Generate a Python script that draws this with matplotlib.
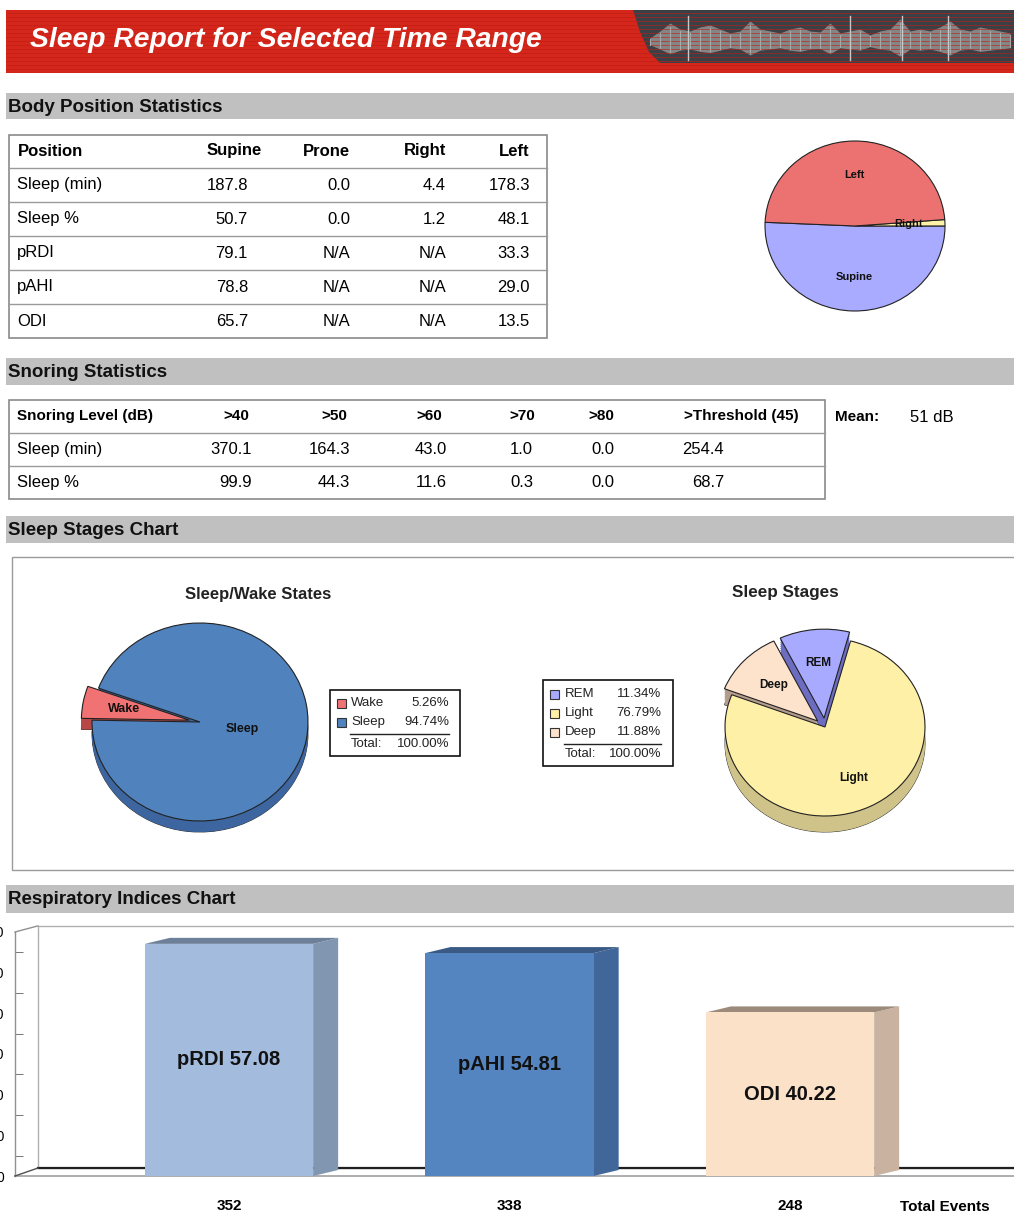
import numpy as np
import matplotlib.pyplot as plt
from matplotlib.patches import Rectangle, Polygon

plt.rcParams['font.family'] = ['Liberation Sans', 'DejaVu Sans']

W, H = 1014, 1213

title = "Sleep Report for Selected Time Range"

# ---- body position ----
pos_cols = ["Supine", "Prone", "Right", "Left"]
pos_rows = ["Sleep (min)", "Sleep %", "pRDI", "pAHI", "ODI"]
pos_sleep_min = [187.8, 0.0, 4.4, 178.3]
pos_sleep_pct = [50.7, 0.0, 1.2, 48.1]
pos_prdi = [79.1, None, None, 33.3]
pos_pahi = [78.8, None, None, 29.0]
pos_odi = [65.7, None, None, 13.5]

# ---- snoring ----
snore_cols = [">40", ">50", ">60", ">70", ">80", ">Threshold (45)"]
snore_rows = ["Sleep (min)", "Sleep %"]
snore_min = [370.1, 164.3, 43.0, 1.0, 0.0, 254.4]
snore_pct = [99.9, 44.3, 11.6, 0.3, 0.0, 68.7]
snore_mean = 51

# ---- sleep stages ----
wake_labels = ["Wake", "Sleep"]
wake_pct = [5.26, 94.74]
wake_total = 100.00
stage_labels = ["REM", "Light", "Deep"]
stage_pct = [11.34, 76.79, 11.88]
stage_total = 100.00

# ---- respiratory indices ----
resp_labels = ["pRDI", "pAHI", "ODI"]
resp_index = [57.08, 54.81, 40.22]
resp_events = [352, 338, 248]

# banner decoration (hand-read envelope of the waveform picture)
wave_x = list(range(650, 1015, 10))
wave_env = [3, 10, 18, 12, 10, 14, 16, 12, 8, 10, 20, 12, 10, 8, 12, 14, 10, 9, 18,
            8, 10, 12, 6, 10, 12, 22, 10, 12, 10, 14, 20, 12, 10, 14, 12, 10, 8]

fig = plt.figure(figsize=(W / 100, H / 100), dpi=100)


def fig_axes(x0, y0, x1, y1):
    return fig.add_axes([x0 / W, 1 - y1 / H, (x1 - x0) / W, (y1 - y0) / H])


bg = fig.add_axes([0, 0, 1, 1])
bg.set_xlim(0, W)
bg.set_ylim(H, 0)
bg.axis('off')

# banner
red = '#d4261b'
bg.add_patch(Rectangle((6, 10), W - 6, 63, color=red, lw=0))
for y in range(13, 73, 4):
    bg.plot([6, W], [y, y], color='#bf1f15', lw=0.7, alpha=0.6)
bg.add_patch(Polygon([(633, 10), (640, 32), (649, 52), (660, 63), (W, 63), (W, 10)],
                     closed=True, color='#3b4047', lw=0))
wx = np.array(wave_x)
we = np.array(wave_env)
bg.fill_between(wx, 41 - we, 43 + we * 0.6, color='#858585', lw=0)
for x, e in zip(wx, we):
    bg.plot([x, x], [41 - e * 0.8, 43 + e * 0.5], color='#a8a8a8', lw=0.8)
for x in [688, 850, 902, 948]:
    bg.plot([x, x], [16, 60], color='#c8c8c8', lw=1.0)
bg.text(30, 40, title, color='white', fontsize=20.3, fontweight='bold',
        fontstyle='italic', va='center', ha='left')


def section(y0, y1, label):
    bg.add_patch(Rectangle((6, y0), W - 6, y1 - y0, color='#c0c0c0', lw=0))
    bg.text(8, (y0 + y1) / 2 + 1, label, fontsize=13.5, fontweight='bold',
            va='center', ha='left', color='#111111')


section(93, 119, "Body Position Statistics")
section(358, 385, "Snoring Statistics")
section(516, 543, "Sleep Stages Chart")
section(885, 913, "Respiratory Indices Chart")


def fmt(v):
    return "N/A" if v is None else f"{v:.1f}"


def table_frame(x0, x1, edges):
    bg.add_patch(Rectangle((x0, edges[0]), x1 - x0, edges[-1] - edges[0],
                           fill=False, ec='#8a8a8a', lw=1.2))
    for y in edges[1:-1]:
        bg.plot([x0, x1], [y, y], color='#9a9a9a', lw=1.0)


# body position table
pos_edges = [135, 168, 202, 236, 270, 304, 338]
table_frame(9, 547, pos_edges)
pos_head_x = [262, 350, 446, 530]
pos_val_x = [248, 350, 446, 530]
bg.text(18, 151, "Position", fontsize=12, fontweight='bold', va='center')
for c, x in zip(pos_cols, pos_head_x):
    bg.text(x, 151, c, fontsize=12, fontweight='bold', va='center', ha='right')
pos_data = [pos_sleep_min, pos_sleep_pct, pos_prdi, pos_pahi, pos_odi]
for i, (lab, row) in enumerate(zip(pos_rows, pos_data)):
    yc = (pos_edges[i + 1] + pos_edges[i + 2]) / 2
    bg.text(17, yc, lab, fontsize=12, va='center')
    for v, x in zip(row, pos_val_x):
        bg.text(x, yc, fmt(v), fontsize=12, va='center', ha='right')

# snoring table
sn_edges = [400, 433, 466, 499]
table_frame(9, 825, sn_edges)
sn_head_x = [249, 347, 442, 535, 614, 799]
sn_val_x = [252, 350, 447, 533, 614, 724]
bg.text(17, 416, "Snoring Level (dB)", fontsize=11, fontweight='bold', va='center')
for c, x in zip(snore_cols, sn_head_x):
    bg.text(x, 416, c, fontsize=11, fontweight='bold', va='center', ha='right')
for i, (lab, row) in enumerate(zip(snore_rows, [snore_min, snore_pct])):
    yc = (sn_edges[i + 1] + sn_edges[i + 2]) / 2
    bg.text(17, yc, lab, fontsize=12, va='center')
    for v, x in zip(row, sn_val_x):
        bg.text(x, yc, fmt(v), fontsize=12, va='center', ha='right')
bg.text(835, 417, "Mean:", fontsize=11, fontweight='bold', va='center')
bg.text(910, 417, f"{snore_mean} dB", fontsize=12, va='center')

# sleep stages frame
bg.add_patch(Rectangle((12, 557), W - 12 + 5, 313, fill=False, ec='#9a9a9a', lw=1.0))
bg.text(258, 595, "Sleep/Wake States", fontsize=12, fontweight='bold', ha='center', va='center', color='#222')
bg.text(785, 592, "Sleep Stages", fontsize=12.3, fontweight='bold', ha='center', va='center', color='#222')


def pie3d(cx, cy, rx, ry, depth, vals, cols, side_cols, start, ccw, explode):
    pad = 1.5
    ax = fig_axes(cx - rx * pad, cy - ry * pad, cx + rx * pad, cy + ry * pad)
    d = depth / ry
    if d > 0:
        ax.pie(vals, colors=side_cols, startangle=start, counterclock=ccw, explode=explode,
               center=(0, -d), wedgeprops=dict(edgecolor='#333333', lw=0.7))
        for k in np.linspace(d, 0, 9)[:-1]:
            ax.pie(vals, colors=side_cols, startangle=start, counterclock=ccw, explode=explode,
                   center=(0, -k), wedgeprops=dict(lw=0))
    wedges, _ = ax.pie(vals, colors=cols, startangle=start, counterclock=ccw, explode=explode,
                       wedgeprops=dict(edgecolor='#222222', lw=0.8))
    ax.set_xlim(-pad, pad)
    ax.set_ylim(-pad, pad)
    ax.set_aspect('auto')
    ax.axis('off')
    return ax, wedges


def wedge_labels(ax, wedges, labels, dists, size):
    for w, lab, r in zip(wedges, labels, dists):
        a = np.deg2rad((w.theta1 + w.theta2) / 2)
        x0, y0 = w.center
        ax.text(x0 + r * np.cos(a), y0 + r * np.sin(a), lab, fontsize=size,
                fontweight='bold', ha='center', va='center', color='#111')


# body position pie (non-zero positions only)
bp_lab = [c for c, v in zip(pos_cols, pos_sleep_pct) if v > 0]
bp_val = [v for v in pos_sleep_pct if v > 0]
bp_col_map = {"Supine": '#a8abff', "Right": '#fff3a6', "Left": '#ec7272'}
ax_bp, w_bp = pie3d(855, 226, 90, 85, 0, bp_val, [bp_col_map[c] for c in bp_lab], None,
                    177.5, True, None)
wedge_labels(ax_bp, w_bp, bp_lab, [0.6] * len(bp_lab), 8)

# sleep / wake pie
ax_sw, w_sw = pie3d(200, 722, 108, 99, 11, wake_pct, ['#f07272', '#5082bd'],
                    ['#b84848', '#3d66a0'], 160, True, [0.1, 0])
wedge_labels(ax_sw, w_sw, wake_labels, [0.62, 0.4], 9)

# sleep stages pie
ax_st, w_st = pie3d(825, 727, 100, 89, 16, stage_pct, ['#a8aaff', '#fff0a8', '#fde2cc'],
                    ['#6c6cc0', '#cfc38a', '#b49c8c'], 116, False, [0.1, 0, 0.1])
wedge_labels(ax_st, w_st, stage_labels, [0.62, 0.64, 0.6], 8.5)


def legend_box(x0, y0, x1, y1, labels, pcts, total, cols, ys, line_y, total_y, txt_x, pct_x):
    bg.add_patch(Rectangle((x0, y0), x1 - x0, y1 - y0, fc='white', ec='#111', lw=1.2))
    for lab, p, c, y in zip(labels, pcts, cols, ys):
        bg.add_patch(Rectangle((x0 + 7, y - 4.5), 9, 9, fc=c, ec='#333', lw=0.8))
        bg.text(txt_x, y, lab, fontsize=9.5, va='center', color='#222')
        bg.text(pct_x, y, f"{p:.2f}%", fontsize=9.5, va='center', ha='right', color='#222')
    bg.plot([txt_x - 1, pct_x], [line_y, line_y], color='#222', lw=1.0)
    bg.text(txt_x, total_y, "Total:", fontsize=9.5, va='center', color='#222')
    bg.text(pct_x, total_y, f"{total:.2f}%", fontsize=9.5, va='center', ha='right', color='#222')


legend_box(330, 690, 460, 756, wake_labels, wake_pct, wake_total, ['#f07272', '#5082bd'],
           [703, 722], 734, 744, 351, 449)
legend_box(543, 680, 673, 766, stage_labels, stage_pct, stage_total,
           ['#a8aaff', '#fff0a8', '#fde2cc'], [694, 713, 732], 744, 754, 565, 661)

# ---- respiratory indices bar chart ----
px_per = 4.067
x0c, step = 229, 280.5
ax = fig_axes(15, 920, W, 1176)
ax.set_ylim(0, 256 / px_per)
xl, xr = (15 - x0c) / step, (W - x0c) / step
ax.set_xlim(xl, xr)
for s in ax.spines.values():
    s.set_visible(False)

dxw, dyw = 23 / step, 8 / px_per
ax.add_patch(Rectangle((xl + dxw, dyw), xr - xl, 60 + 1.5 - dyw, fc='white', ec='#b0b0b0', lw=1.0, zorder=0))
ax.plot([xl, xl], [0, 60], color='#909090', lw=1.0, clip_on=False)
ax.plot([xl, xl + dxw], [60, 61.5], color='#909090', lw=1.0, clip_on=False)
ax.plot([xl, xl + dxw], [0, dyw], color='#505050', lw=1.0, clip_on=False)
ax.plot([xl + dxw, xr], [dyw, dyw], color='#202020', lw=1.6, zorder=1)
ax.plot([xl, xr], [0, 0], color='#a0a0a0', lw=1.2, zorder=1, clip_on=False)

xs = np.arange(len(resp_index))
bw = 0.6
dx, dy = 25 / step, 6 / px_per
fronts = ['#a3bbdc', '#5585c0', '#fae1c8']
sides = ['#8196b0', '#40669a', '#c9b3a0']
tops = ['#6c8099', '#3a5a85', '#9c8a7a']
ax.bar(xs, resp_index, width=bw, color=fronts, zorder=3)
for x, v, sc, tc, lab in zip(xs, resp_index, sides, tops, resp_labels):
    r = x + bw / 2
    ax.add_patch(Polygon([(r, 0), (r + dx, dy), (r + dx, v + dy), (r, v)], closed=True,
                         color=sc, lw=0, zorder=2))
    ax.add_patch(Polygon([(x - bw / 2, v), (r, v), (r + dx, v + dy), (x - bw / 2 + dx, v + dy)],
                         closed=True, color=tc, lw=0, zorder=2))
    ax.text(x, v / 2, f"{lab} {v:.2f}", fontsize=14.5, fontweight='bold', ha='center',
            va='center', color='#111', zorder=4)

ax.set_yticks(np.arange(0, 61, 10))
ax.set_yticks(np.arange(5, 60, 10), minor=True)
ax.tick_params(axis='y', which='major', length=0, pad=8, labelsize=10)
ax.tick_params(axis='y', which='minor', length=6, direction='in', color='#606060')
ax.set_xticks(xs)
ax.set_xticklabels([str(e) for e in resp_events], fontsize=11, fontweight='bold')
ax.tick_params(axis='x', length=0, pad=16.5)
ax.annotate("Total Events", xy=((945 - x0c) / step, 0), xycoords='data',
            xytext=(0, -22), textcoords='offset points', ha='center', va='center',
            fontsize=11, fontweight='bold', annotation_clip=False)

fig.savefig("out.png", dpi=100)
